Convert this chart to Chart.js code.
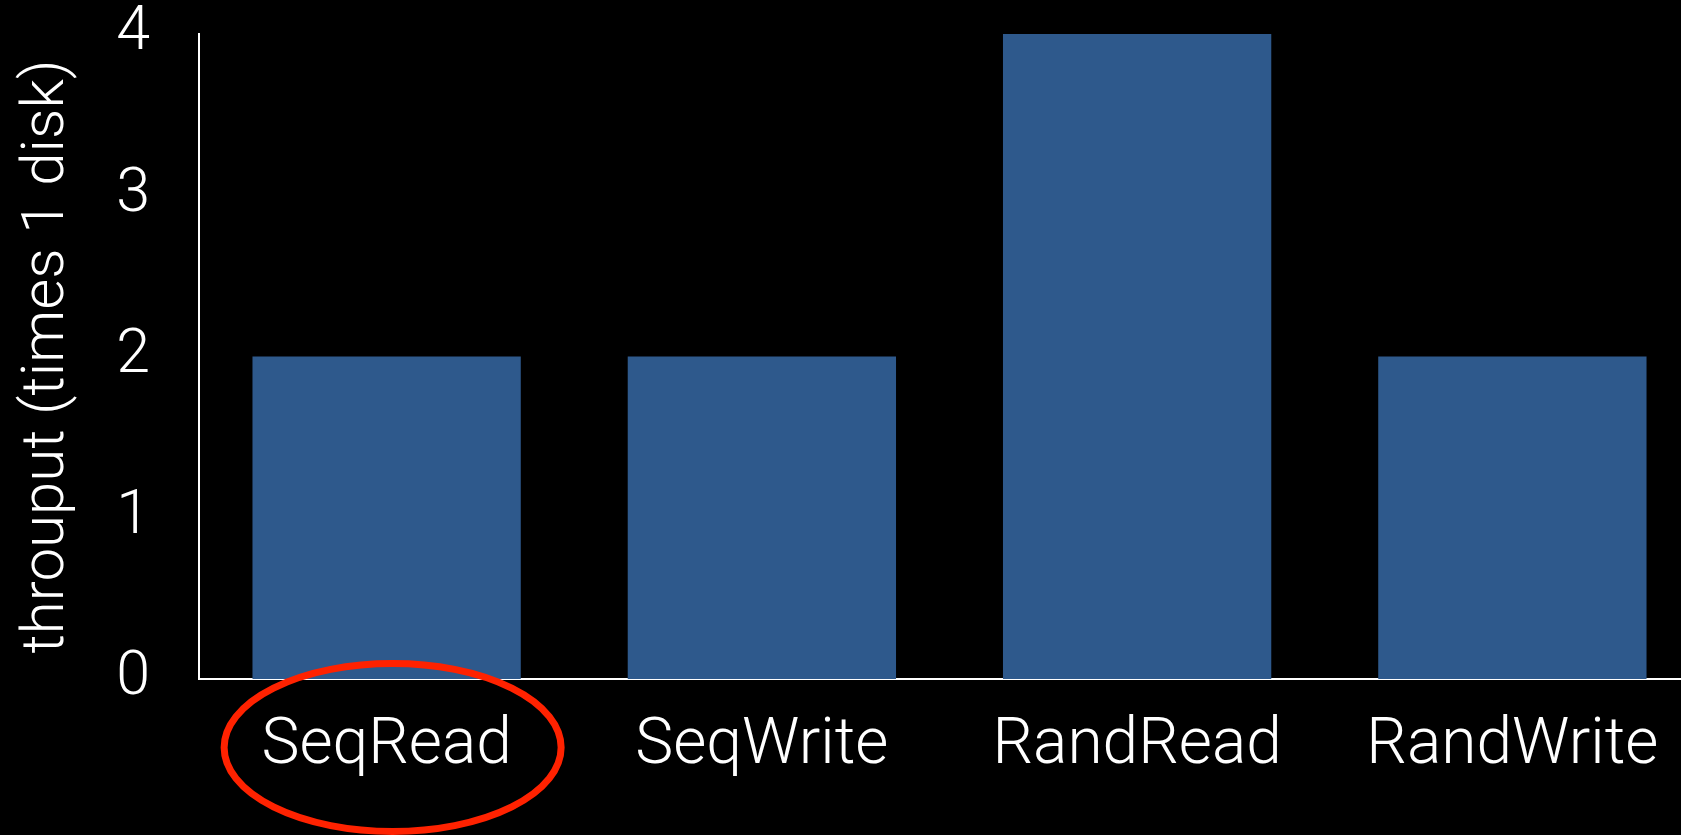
<!DOCTYPE html>
<html>
<head>
<meta charset="utf-8">
<title>Throughput relative to one disk</title>
<script src="https://cdn.jsdelivr.net/npm/chart.js@4/dist/chart.umd.min.js"></script>
<style>
  html, body { margin: 0; padding: 0; background: #000; overflow: hidden; }
  #wrap { width: 1700px; height: 835px; }
  canvas { display: block; }
</style>
</head>
<body>
<div id="wrap"><canvas id="chart" width="1700" height="835"></canvas></div>
<script>
// Workload categories and throughput, as a multiple of a single disk
const categories = ['SeqRead', 'SeqWrite', 'RandRead', 'RandWrite'];
const throughput = [2, 2, 4, 2];
const yTicks = [0, 1, 2, 3, 4];
const yTitle = 'throuput (times 1 disk)';
const circledCategory = 'SeqRead';

const FONT_FAMILY = 'Roboto, "Helvetica Neue", Lato, "Liberation Sans", sans-serif';
const BAR_COLOR = '#2e598c';

// Red outline drawn around one of the category labels
const circleLabel = {
  id: 'circleLabel',
  afterDraw(chart) {
    const x = chart.scales.x;
    const idx = categories.indexOf(circledCategory);
    if (idx < 0) return;
    const cx = x.getPixelForValue(idx) + 6;
    const cy = x.top + 68.5;
    const ctx = chart.ctx;
    ctx.save();
    ctx.beginPath();
    ctx.ellipse(cx, cy, 168.5, 84, 0, 0, Math.PI * 2);
    ctx.lineWidth = 7;
    ctx.strokeStyle = '#ff2200';
    ctx.stroke();
    ctx.restore();
  }
};

new Chart(document.getElementById('chart'), {
  type: 'bar',
  data: {
    labels: categories,
    datasets: [{
      data: throughput,
      backgroundColor: BAR_COLOR,
      borderWidth: 0,
      barPercentage: 0.715,
      categoryPercentage: 1.0
    }]
  },
  options: {
    responsive: false,
    animation: false,
    devicePixelRatio: 1,
    layout: { padding: { top: 34, right: 0, bottom: 0, left: 0 } },
    plugins: {
      legend: { display: false },
      tooltip: { enabled: false }
    },
    scales: {
      x: {
        grid: { display: false, drawTicks: false },
        border: { display: true, color: '#ffffff', width: 2 },
        ticks: {
          color: '#ffffff',
          padding: 30,
          maxRotation: 0,
          autoSkip: false,
          font: { family: FONT_FAMILY, size: 64, weight: 300, lineHeight: 1.2 }
        },
        afterFit(scale) { scale.height = 156; }
      },
      y: {
        min: 0,
        max: 4,
        afterBuildTicks(scale) { scale.ticks = yTicks.map(v => ({ value: v })); },
        grid: { display: false, drawTicks: false },
        border: { display: true, color: '#ffffff', width: 2 },
        ticks: {
          color: '#ffffff',
          padding: 49,
          font: { family: FONT_FAMILY, size: 61, weight: 300, lineHeight: 1 }
        },
        title: {
          display: true,
          text: yTitle,
          color: '#ffffff',
          padding: { top: 12, bottom: 0 },
          font: { family: FONT_FAMILY, size: 60, weight: 300, lineHeight: 1.2 }
        },
        afterFit(scale) {
          scale.width = 199;
          // keep only half a label of overhang above and below the axis
          scale.paddingTop = 30;
          scale.paddingBottom = 30;
        }
      }
    }
  },
  plugins: [circleLabel]
});
</script>
</body>
</html>
